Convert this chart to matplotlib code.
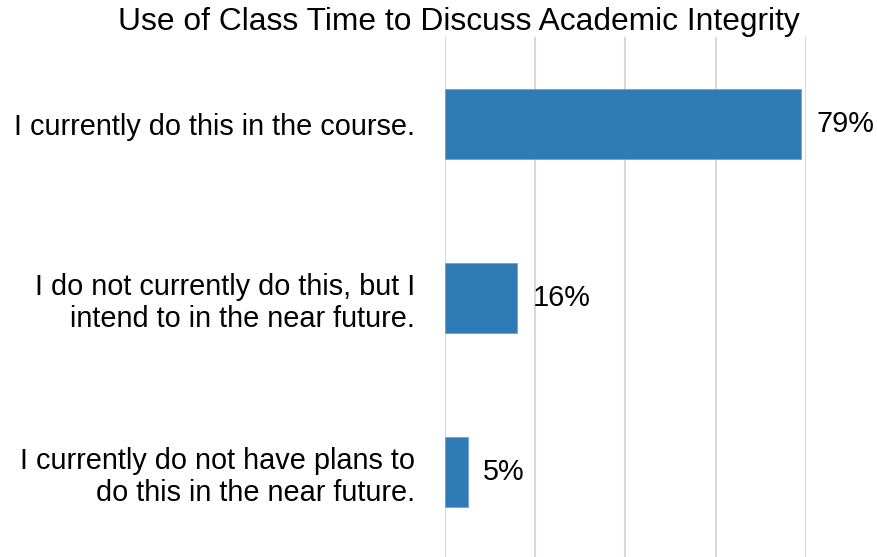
import matplotlib.pyplot as plt

plt.rcParams['font.family'] = ['Liberation Sans', 'DejaVu Sans']

categories = ['I currently do this in the course.',
              'I do not currently do this, but I\nintend to in the near future.',
              'I currently do not have plans to\ndo this in the near future.']
values = [79, 16, 5]
title = 'Use of Class Time to Discuss Academic Integrity'

fig = plt.figure(figsize=(8.78, 5.57), dpi=100)
ax = fig.add_axes([445 / 878, -2 / 557, 361 / 878, 522 / 557])

ypos = list(range(len(categories)))
ax.barh(ypos, values, height=0.4, color='#2e7bb6', edgecolor='#6fa3cf', linewidth=0.6, zorder=3)
ax.set_xlim(0, 80)
ax.set_ylim(2.5, -0.5)

ax.set_xticks([0, 20, 40, 60, 80])
ax.set_xticklabels([])
ax.tick_params(axis='x', length=0)
ax.grid(axis='x', color='#d9d9d9', linewidth=1.5, zorder=0)
ax.set_yticks(ypos)
ax.set_yticklabels(categories, fontsize=20.8, ha='right', linespacing=1.2)
ax.tick_params(axis='y', length=0, pad=21.5)
for s in ax.spines.values():
    s.set_visible(False)

for y, v in zip(ypos, values):
    ax.annotate(f'{v}%', (v, y), xytext=(11, 0), textcoords='offset points',
                va='center', ha='left', fontsize=20.8, annotation_clip=False)

fig.text(459 / 878, 1 - 22 / 557, title, ha='center', va='center', fontsize=22.9)

fig.savefig('out.png', dpi=100)
